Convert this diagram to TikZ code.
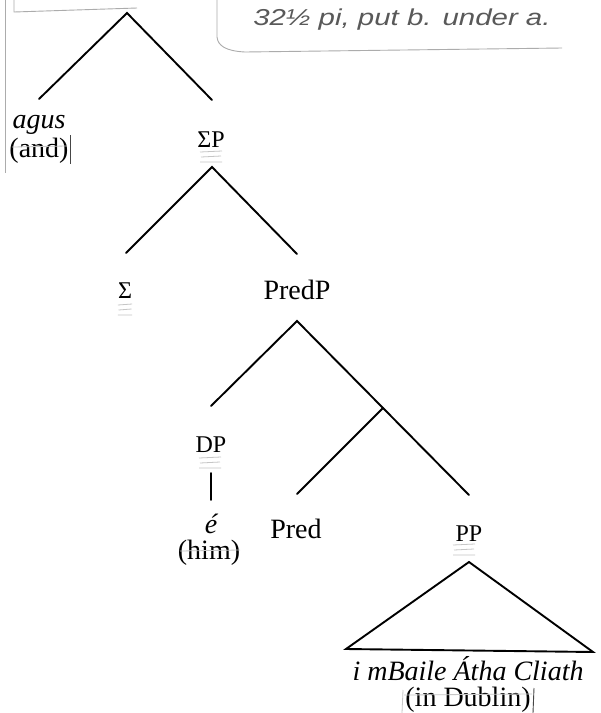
\documentclass[tikz,border=0pt]{standalone}
\usepackage{fontspec}
\setmainfont{Liberation Serif}
\newfontfamily\handfont{Liberation Sans}
\tikzset{
  lab/.style={inner sep=0pt, anchor=base, font=\fontsize{28}{30}\selectfont},
  smlab/.style={inner sep=0pt, anchor=base, font=\fontsize{24}{26}\selectfont},
  branch/.style={line width=1.9pt, line cap=round},
  pencil/.style={gray!65, line width=0.9pt},
  edit/.style={gray!45, line width=0.8pt},
  scrib/.pic={\draw[edit] (-11,0) -- (11,-1) (-10,5) -- (10,4) (-11,10) -- (11,10);},
}
\begin{document}
\begin{tikzpicture}[x=1pt,y=-1pt]
\useasboundingbox[fill=white] (0,0) rectangle (601,713);
% editorial pencil marks
\draw[pencil] (5,0) -- (5,173);
\draw[pencil] (14,0) -- (14,12) -- (137,8);
\draw[pencil] (217,0) -- (217,37) .. controls (218,46) and (226,51) .. (245,52) -- (562,48);
\node[inner sep=0pt, anchor=base west, font=\handfont\itshape\fontsize{23}{25}\selectfont, text=gray!70!black, xscale=1.28, transform shape] (note) at (253,25) {32½ pi, put b. under a.};
% tree coordinates
\coordinate (root) at (127,13);
\coordinate (rootL) at (39,99);
\coordinate (rootR) at (212,100);
\coordinate (spTop) at (212,167);
\coordinate (spL) at (126,253);
\coordinate (spR) at (297,254);
\coordinate (ppTop) at (297,321);
\coordinate (ppL) at (211,406);
\coordinate (bar) at (383,408);
\coordinate (barL) at (297,494);
\coordinate (barR) at (469,495);
\coordinate (dpTop) at (211,473);
\coordinate (dpBot) at (211,500);
\coordinate (triTop) at (469,562);
\coordinate (triL) at (346,649);
\coordinate (triR) at (593,652);
% labels
\node[lab, font=\itshape\fontsize{28}{30}\selectfont] (agus) at (39,128) {agus};
\node[lab] (and) at (39,157) {(and)};
\node[smlab] (SP) at (211,147) {ΣP};
\node[smlab] (Sig) at (125,298) {Σ};
\node[lab] (PredP) at (297,299) {PredP};
\node[smlab] (DP) at (211,452) {DP};
\node[lab, font=\itshape\fontsize{28}{30}\selectfont] (e) at (211,533) {é};
\node[lab] (him) at (209,559) {(him)};
\node[lab] (Pred) at (296,538) {Pred};
\node[smlab] (PP) at (469,541) {PP};
\node[lab, font=\itshape\fontsize{28}{30}\selectfont] (irish) at (468,680) {i mBaile Átha Cliath};
\node[lab] (dublin) at (468,706.5) {(in Dublin)};
% scribbled triple underlines
\pic at (211,152) {scrib};
\pic[xscale=0.65] at (125,305) {scrib};
\pic at (210,458) {scrib};
\pic at (464,545) {scrib};
% editorial strokes over glosses
\draw[pencil, gray!55!black] (70,135) -- (70,164);
\draw[edit] (12,147) -- (67,146);
\draw[edit] (180,551) -- (240,550);
\draw[edit] (404,695) -- (532,694);
\draw[pencil, gray!55!black] (534,688) -- (533,713);
\draw[edit] (403,690) -- (402,713);
% branches
\draw[branch] (rootL) -- (root) -- (rootR);
\draw[branch] (spL) -- (spTop) -- (spR);
\draw[branch] (ppL) -- (ppTop) -- (barR);
\draw[branch] (bar) -- (barL);
\draw[branch] (dpTop) -- (dpBot);
\draw[branch] (triTop) -- (triL) -- (triR) -- cycle;
\end{tikzpicture}
\end{document}
